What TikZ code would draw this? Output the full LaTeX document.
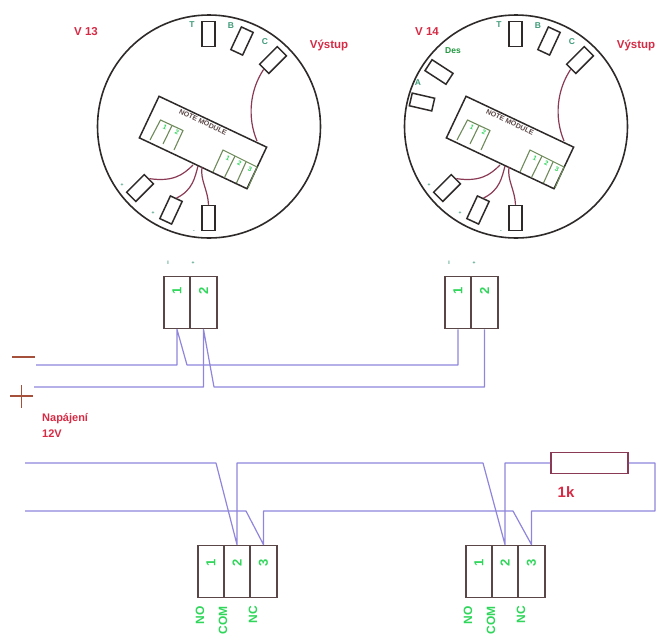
\documentclass[tikz,border=0pt]{standalone}
\usepackage{fontspec}
\usetikzlibrary{calc}
\setmainfont{Liberation Sans}
\definecolor{wireblue}{HTML}{8F85DC}
\definecolor{darkline}{HTML}{2E2A2A}
\definecolor{termline}{HTML}{5A4646}
\definecolor{wirered}{HTML}{8A3A55}
\definecolor{labelred}{HTML}{D62B45}
\definecolor{signred}{HTML}{A5503A}
\definecolor{labelgreen}{HTML}{2FD65A}
\definecolor{smallgreen}{HTML}{3E9A78}
\definecolor{innergreen}{HTML}{6F8A5A}
\tikzset{
  housing/.style={circle,draw=darkline,line width=1.6pt,minimum size=223pt,inner sep=0pt},
  pinbox/.style={rectangle,draw=darkline,line width=1.5pt,minimum width=13pt,minimum height=25pt,inner sep=0pt},
  modbox/.style={rectangle,draw=darkline,line width=1.5pt,minimum width=119pt,minimum height=46pt,inner sep=0pt,rotate=-25.3},
  redwire/.style={draw=wirered,line width=1.2pt},
  inner/.style={draw=innergreen,line width=1.1pt},
  cellbox/.style={rectangle,draw=termline,line width=1.7pt,minimum width=26.3pt,minimum height=52pt,inner sep=0pt},
  bluewire/.style={draw=wireblue,line width=1.2pt,line join=round},
  redlabel/.style={text=labelred,font=\bfseries\fontsize{11.5}{12}\selectfont,inner sep=0pt},
  pinlabel/.style={text=smallgreen,font=\bfseries\fontsize{8.5}{8.5}\selectfont,inner sep=0pt},
  tinylabel/.style={text=smallgreen,font=\bfseries\fontsize{5}{5}\selectfont,inner sep=0pt},
  celldigit/.style={text=labelgreen,font=\bfseries\fontsize{13}{13}\selectfont,inner sep=0pt,rotate=90},
  moddigit/.style={text=labelgreen,font=\bfseries\fontsize{6.5}{6.5}\selectfont,inner sep=0pt,rotate=-25.3},
  wirelabel/.style={text=labelgreen,font=\bfseries\fontsize{12}{12}\selectfont,inner sep=0pt,rotate=90,anchor=east},
  signline/.style={draw=signred,line width=1.8pt}
}
% sensor drawn at horizontal offset #2, node names prefixed by #1
\newcommand{\sensorunit}[2]{%
\begin{scope}[shift={(#2,0)}]
  \node[housing] (#1h) at (209,126.5) {};
  \node[modbox] (#1m) at (203,142.5) {};
  \node[pinbox] (#1T) at (208.5,34) {};
  \node[pinbox,rotate=-25] (#1B) at (242,41) {};
  \node[pinbox,rotate=-45] (#1C) at (273,60) {};
  \node[pinbox,rotate=-45] (#1P) at (140,188) {};
  \node[pinbox,rotate=-25] (#1Q) at (171,210) {};
  \node[pinbox] (#1R) at (208.5,218) {};
  \coordinate (#1e0) at (257,141);
  \coordinate (#1e1) at (193,165);
  \coordinate (#1e2) at (198,166);
  \coordinate (#1e3) at (202,167);
  \draw[redwire] (#1C.south) .. controls (250,90) and (247,117) .. (#1e0);
  \draw[redwire] (#1P.north) .. controls (173,182) and (183,175) .. (#1e1);
  \draw[redwire] (#1Q.north) .. controls (193,190) and (195,177) .. (#1e2);
  \draw[redwire] (#1R.north) .. controls (208,190) and (200,180) .. (#1e3);
  % terminal blocks on the module
  \draw[inner] (150,140) -- (160.5,120) -- (183,130.5) -- (174,150);
  \draw[inner] (163,144) -- (172,125.5);
  \draw[inner] (213,172) -- (223,150) -- (257,167) -- (248,188);
  \draw[inner] (224.5,177.5) -- (235,156);
  \draw[inner] (236.5,183) -- (246,162);
  \node[moddigit] at (165,127) {1};
  \node[moddigit] at (177,132.5) {2};
  \node[moddigit] at (228,158) {1};
  \node[moddigit] at (239.5,163.5) {2};
  \node[moddigit] at (250,169) {3};
  \node[text=termline,font=\bfseries\fontsize{7}{7}\selectfont,inner sep=0pt,rotate=-25.3] at (203,122) {NOTE MODULE};
  \node[pinlabel] at (192,25) {T};
  \node[pinlabel] at (231,26) {B};
  \node[pinlabel] at (265,42) {C};
  \node[tinylabel] at (122,185) {+};
  \node[tinylabel] at (153,213) {+};
  \node[tinylabel] at (194,232) {-};
\end{scope}}
\begin{document}
\begin{tikzpicture}[x=1pt,y=-1pt]
\useasboundingbox (0,0) rectangle (657,633);
\sensorunit{a}{0}
\sensorunit{b}{307}
\node[pinbox,minimum width=25pt,minimum height=13pt,rotate=-33] (bD) at (439,72) {};
\node[pinbox,minimum width=23pt,minimum height=13pt,rotate=-13] (bE) at (422,102) {};
\node[pinlabel,text=labelgreen!70!black] (lDes) at (453,51) {Des};
\node[pinlabel] (lA) at (418,83) {A};
\node[redlabel] (v13) at (86,32) {V 13};
\node[redlabel] (v14) at (427,32) {V 14};
\node[redlabel] (out1) at (329,45) {Výstup};
\node[redlabel] (out2) at (636,45) {Výstup};

% supply terminal blocks
\node[cellbox] (sa1) at (177,302.5) {};
\node[cellbox] (sa2) at (203.5,302.5) {};
\node[cellbox] (sb1) at (458,302.5) {};
\node[cellbox] (sb2) at (484.5,302.5) {};
\foreach \c/\d in {sa1/1,sa2/2,sb1/1,sb2/2}{\node[celldigit] at ($(\c.north)+(0,15)$) {\d};}
\node[tinylabel] at (168,263) {I};
\node[tinylabel] at (193,263) {+};
\node[tinylabel] at (449,263) {I};
\node[tinylabel] at (474,263) {+};

% contact terminal blocks
\node[cellbox] (ca1) at (211,571.5) {};
\node[cellbox] (ca2) at (237,571.5) {};
\node[cellbox] (ca3) at (263.5,571.5) {};
\node[cellbox] (cb1) at (479,571.5) {};
\node[cellbox] (cb2) at (505,571.5) {};
\node[cellbox] (cb3) at (531.5,571.5) {};
\foreach \c/\d in {ca1/1,ca2/2,ca3/3,cb1/1,cb2/2,cb3/3}{\node[celldigit] at ($(\c.north)+(0,18)$) {\d};}
\node[wirelabel] at (200,606) {NO};
\node[wirelabel] at (223,606) {COM};
\node[wirelabel] at (253,606) {NC};
\node[wirelabel] at (468,606) {NO};
\node[wirelabel] at (491,606) {COM};
\node[wirelabel] at (521,606) {NC};

% resistor
\node[rectangle,draw=wirered,line width=1.6pt,minimum width=77pt,minimum height=21pt,inner sep=0pt] (res) at (589.5,463) {};
\node[text=labelred,font=\bfseries\fontsize{15}{15}\selectfont,inner sep=0pt] (rlab) at (566,492) {1k};

% supply wires
\coordinate (mns) at (36,365);
\coordinate (pls) at (34,387);
\coordinate (mj) at (187,365);
\coordinate (pj) at (214,387);
\draw[bluewire] (mns) -| (sa1.south) -- (mj) -| (sb1.south);
\draw[bluewire] (pls) -| (sa2.south) -- (pj) -| (sb2.south);

% contact wires
\coordinate (u0) at (25,463);
\coordinate (u1) at (216,463);
\coordinate (u2) at (483,463);
\coordinate (d0) at (25,511);
\coordinate (d1) at (246,511);
\coordinate (d2) at (513,511);
\coordinate (ue) at (655,463);
\draw[bluewire] (u0) -- (u1) -- (ca2.north) |- (u2) -- (cb2.north) |- (res.west);
\draw[bluewire] (res.east) -- (ue) |- (cb3.north |- d0) -- (cb3.north) -- (d2) -- (ca3.north |- d0) -- (ca3.north) -- (d1) -- (d0);

% signs
\coordinate (m1) at (12,357);
\coordinate (m2) at (35,357);
\coordinate (p1) at (10,396);
\coordinate (p2) at (33,396);
\coordinate (p3) at (21.5,385);
\coordinate (p4) at (21.5,408);
\draw[signline] (m1) -- (m2);
\draw[signline] (p1) -- (p2);
\draw[signline] (p3) -- (p4);
\node[redlabel,align=left,anchor=north west,font=\bfseries\fontsize{11}{16}\selectfont] (supply) at (42,413) {Napájení\\12V};
\end{tikzpicture}
\end{document}
